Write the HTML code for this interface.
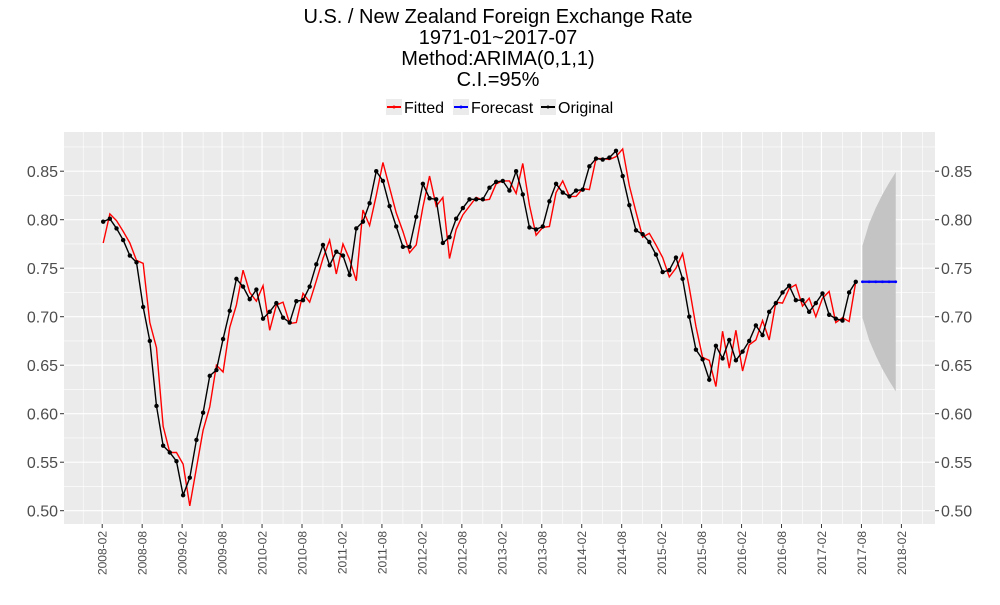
<!DOCTYPE html>
<html><head><meta charset="utf-8"><style>
body{margin:0;background:#fff;font-family:"Liberation Sans","DejaVu Sans",sans-serif;}
</style></head><body>
<svg id="chart" width="1000" height="600" xmlns="http://www.w3.org/2000/svg" font-family="Liberation Sans, DejaVu Sans, sans-serif">
<g text-anchor="middle" font-size="20" fill="#000">
<text x="498" y="23">U.S. / New Zealand Foreign Exchange Rate</text>
<text x="498" y="44">1971-01~2017-07</text>
<text x="498" y="65">Method:ARIMA(0,1,1)</text>
<text x="498" y="86">C.I.=95%</text>
</g>
<g font-size="16">
<g><rect x="386" y="99" width="16" height="16" fill="#EBEBEB"/><line x1="387" y1="107" x2="401" y2="107" stroke="red" stroke-width="2"/><circle cx="394" cy="107" r="1.5" fill="red"/><text x="404" y="113">Fitted</text></g>
<g><rect x="453" y="99" width="16" height="16" fill="#EBEBEB"/><line x1="454" y1="107" x2="468" y2="107" stroke="blue" stroke-width="2"/><circle cx="461" cy="107" r="1.5" fill="blue"/><text x="471" y="113">Forecast</text></g>
<g><rect x="540" y="99" width="16" height="16" fill="#EBEBEB"/><line x1="541" y1="107" x2="555" y2="107" stroke="#000" stroke-width="2"/><circle cx="548" cy="107" r="1.5" fill="#000"/><text x="558" y="113">Original</text></g>
</g>
<rect x="64" y="132" width="871" height="392" fill="#EBEBEB"/>
<g id="grid"></g>
<g id="axes"></g>
<g id="marks"></g>
</svg>
<script>
const original = [.798,.801,.791,.779,.763,.756,.710,.675,.608,.567,.560,.551,.516,.534,.573,.601,.639,.645,.677,.706,.739,.731,.718,.728,.698,.705,.714,.699,.694,.716,.717,.731,.754,.774,.753,.767,.763,.743,.791,.798,.817,.850,.840,.814,.793,.772,.772,.803,.837,.822,.821,.776,.782,.801,.812,.821,.821,.821,.833,.839,.840,.830,.850,.826,.792,.790,.793,.819,.837,.828,.824,.830,.831,.855,.863,.862,.864,.871,.845,.815,.789,.785,.777,.764,.746,.748,.761,.739,.700,.666,.656,.635,.670,.657,.676,.655,.664,.675,.691,.681,.705,.714,.725,.732,.717,.717,.705,.714,.724,.702,.698,.696,.725,.736];
const fitted = [.776,.806,.799,.788,.776,.758,.755,.694,.668,.587,.560,.560,.548,.505,.544,.583,.607,.650,.643,.689,.712,.748,.725,.716,.732,.686,.712,.715,.693,.694,.724,.715,.737,.760,.779,.744,.775,.759,.737,.810,.794,.825,.859,.833,.807,.788,.766,.774,.813,.845,.814,.823,.760,.790,.805,.814,.823,.820,.821,.837,.840,.840,.827,.858,.815,.784,.792,.793,.828,.840,.824,.824,.832,.831,.863,.863,.862,.865,.873,.835,.808,.782,.786,.774,.761,.741,.750,.765,.730,.690,.658,.655,.628,.685,.647,.686,.644,.671,.676,.696,.676,.715,.714,.729,.733,.711,.719,.700,.719,.726,.694,.699,.695,.736];
const forecast = [.736,.736,.736,.736,.736,.736];
const upper = [.773,.796,.812,.826,.838,.849];
const lower = [.699,.676,.660,.646,.634,.623];
const yTicks = [0.50,0.55,0.60,0.65,0.70,0.75,0.80,0.85];
const xTickLabels = ["2008-02","2008-08","2009-02","2009-08","2010-02","2010-08","2011-02","2011-08","2012-02","2012-08","2013-02","2013-08","2014-02","2014-08","2015-02","2015-08","2016-02","2016-08","2017-02","2017-08","2018-02"];

const NS="http://www.w3.org/2000/svg";
const X0=103.2, MW=6.66;
function xs(i){return X0+i*MW;}
function ys(v){return 510.7-(v-0.5)/0.05*48.5;}
function mk(tag,attrs,parent){const e=document.createElementNS(NS,tag);for(const k in attrs)e.setAttribute(k,attrs[k]);parent.appendChild(e);return e;}
const grid=document.getElementById('grid'),axes=document.getElementById('axes'),marks=document.getElementById('marks');
for(let v=0.475;v<=0.88;v+=0.05){const y=ys(v);if(y<132||y>524)continue;const l=mk('line',{x1:64,x2:935,y1:y,y2:y,stroke:'#fff','stroke-width':0.6},grid);

}
for(let i=-3;i<=126;i+=6){const x=xs(i);if(x<64||x>935)continue;const l=mk('line',{x1:x,x2:x,y1:132,y2:524,stroke:'#fff','stroke-width':0.6},grid);

}
yTicks.forEach(v=>{const y=ys(v);
const l=mk('line',{x1:64,x2:935,y1:y,y2:y,stroke:'#fff','stroke-width':1.2},grid);


mk('line',{x1:60,x2:64,y1:y,y2:y,stroke:'#333'},axes);mk('line',{x1:935,x2:939,y1:y,y2:y,stroke:'#333'},axes);
const t1=mk('text',{x:58,y:y+6,'text-anchor':'end','font-size':16,fill:'#4D4D4D'},axes);t1.textContent=v.toFixed(2);


const t2=mk('text',{x:941,y:y+6,'text-anchor':'start','font-size':16,fill:'#4D4D4D'},axes);t2.textContent=v.toFixed(2);

});
xTickLabels.forEach((s,k)=>{const x=xs(k*6)-1;
const l=mk('line',{x1:x,x2:x,y1:132,y2:524,stroke:'#fff','stroke-width':1.2},grid);


mk('line',{x1:x,x2:x,y1:524,y2:528,stroke:'#333'},axes);
const t=mk('text',{x:0,y:0,'text-anchor':'end','font-size':12,fill:'#4D4D4D',transform:`translate(${x+4.5},531) rotate(-90)`},axes);t.textContent=s;

});
const n=original.length;
let pts=[];upper.forEach((v,i)=>pts.push(xs(n+i)+','+ys(v)));for(let i=lower.length-1;i>=0;i--)pts.push(xs(n+i)+','+ys(lower[i]));
const rib=mk('polygon',{points:pts.join(' '),fill:'#C4C4C4'},marks);


function line(arr,off,col,name){const p=mk('polyline',{points:arr.map((v,i)=>xs(i+off)+','+ys(v)).join(' '),fill:'none',stroke:col,'stroke-width':1.4},marks);

return p;}
line(fitted,0,'red','fitted-line');
line(original,0,'#000','original-line');
original.forEach((v,i)=>{const c=mk('circle',{cx:xs(i),cy:ys(v),r:2.2,fill:'#000'},marks);

});
line(forecast,n,'blue','forecast-line').setAttribute('stroke-width','2.2');
forecast.forEach((v,i)=>{const c=mk('circle',{cx:xs(n+i),cy:ys(v),r:1.4,fill:'blue'},marks);

});
</script>
</body></html>
